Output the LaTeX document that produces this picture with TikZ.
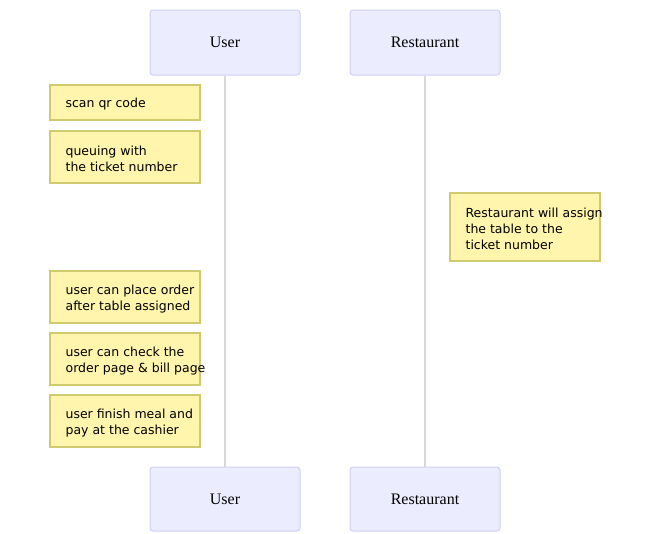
\documentclass[tikz,border=0pt]{standalone}
\usepackage{fontspec}
\setmainfont{Liberation Serif}
\newfontfamily\notefont{DejaVu Sans}
\usepackage{tikz}
\definecolor{actorfill}{HTML}{ECECFF}
\definecolor{actordraw}{HTML}{CFCFF5}
\definecolor{notefill}{HTML}{FFF5AD}
\definecolor{notedraw}{HTML}{CFCA6E}
\definecolor{lifeline}{HTML}{D8D8D8}
\tikzset{
  actor/.style={draw=actordraw, fill=actorfill, line width=1pt, rounded corners=3pt,
    minimum width=150pt, minimum height=65pt, font=\fontsize{16}{19}\selectfont},
  notebox/.style={draw=notedraw, fill=notefill, line width=1.2pt, minimum width=150pt},
  notetext/.style={anchor=west, inner sep=0pt, align=left, yshift=-2pt,
    font=\notefont\fontsize{12.5}{16}\selectfont},
}
\begin{document}
\begin{tikzpicture}[x=1pt,y=-1pt]
    \useasboundingbox (0,0) rectangle (650,533);
    % actors
    \node[actor] (usertop) at (225,42.5) {User};
    \node[actor] (resttop) at (425,42.5) {Restaurant};
    \node[actor, minimum height=64pt] (userbot) at (225,499) {User};
    \node[actor, minimum height=64pt] (restbot) at (425,499) {Restaurant};
    % lifelines
    \draw[lifeline, line width=1.5pt] (usertop.south) -- (userbot.north);
    \draw[lifeline, line width=1.5pt] (resttop.south) -- (restbot.north);
    % notes
    \node[notebox, minimum height=35pt] (scan) at (125,102.5) {};
    \node[notetext] at ([xshift=16pt]scan.west) {scan qr code};
    \node[notebox, minimum height=52pt] (queue) at (125,157) {};
    \node[notetext] at ([xshift=16pt]queue.west) {queuing with\\the ticket number};
    \node[notebox, minimum height=68pt] (assign) at (525,227) {};
    \node[notetext] at ([xshift=16pt]assign.west) {Restaurant will assign\\the table to the\\ticket number};
    \node[notebox, minimum height=52pt] (order) at (125,297) {};
    \node[notetext] at ([xshift=16pt]order.west) {user can place order\\after table assigned};
    \node[notebox, minimum height=52pt] (check) at (125,359) {};
    \node[notetext] at ([xshift=16pt]check.west) {user can check the\\order page \& bill page};
    \node[notebox, minimum height=52pt] (pay) at (125,421) {};
    \node[notetext] at ([xshift=16pt]pay.west) {user finish meal and\\pay at the cashier};
\end{tikzpicture}
\end{document}
